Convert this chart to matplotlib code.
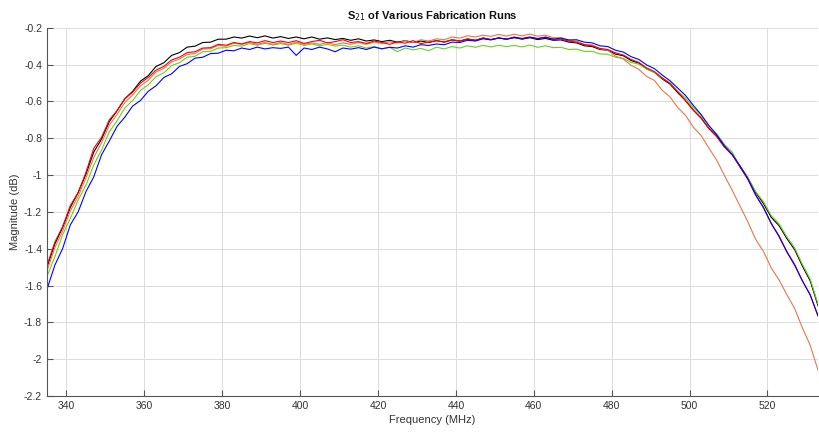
import matplotlib
matplotlib.use("Agg")
import matplotlib.pyplot as plt
import numpy as np

plt.rcParams['font.family'] = ['Liberation Sans', 'DejaVu Sans']

# Frequency sample points (MHz), 2 MHz spacing
freq = np.arange(335, 534, 2)

# |S21| in dB for each fabrication run
run_black = [
    -1.50, -1.375, -1.285, -1.175, -1.095, -0.995, -0.875, -0.805, -0.71, -0.65,
    -0.585, -0.545, -0.49, -0.46, -0.41, -0.39, -0.35, -0.335, -0.305, -0.30,
    -0.28, -0.278, -0.262, -0.262, -0.25, -0.256, -0.245, -0.254, -0.244, -0.256,
    -0.248, -0.258, -0.25, -0.26, -0.25, -0.262, -0.255, -0.264, -0.258, -0.268,
    -0.26, -0.272, -0.266, -0.275, -0.268, -0.278, -0.27, -0.28, -0.272, -0.28,
    -0.27, -0.278, -0.266, -0.272, -0.262, -0.268, -0.256, -0.264, -0.256, -0.262,
    -0.254, -0.262, -0.254, -0.264, -0.258, -0.268, -0.266, -0.278, -0.282, -0.298,
    -0.302, -0.318, -0.322, -0.343, -0.352, -0.378, -0.392, -0.423, -0.442, -0.478,
    -0.506, -0.553, -0.596, -0.648, -0.69, -0.748, -0.79, -0.848, -0.89, -0.952,
    -1.016, -1.094, -1.155, -1.23, -1.275, -1.345, -1.405, -1.495, -1.575, -1.71]
run_orange = [
    -1.52, -1.395, -1.305, -1.195, -1.115, -1.015, -0.905, -0.825, -0.73, -0.67,
    -0.605, -0.565, -0.515, -0.485, -0.44, -0.42, -0.385, -0.37, -0.345, -0.34,
    -0.315, -0.314, -0.295, -0.30, -0.284, -0.29, -0.28, -0.29, -0.28, -0.29,
    -0.28, -0.29, -0.278, -0.29, -0.282, -0.29, -0.28, -0.292, -0.282, -0.29,
    -0.28, -0.29, -0.278, -0.285, -0.276, -0.284, -0.27, -0.28, -0.265, -0.272,
    -0.26, -0.265, -0.25, -0.256, -0.243, -0.25, -0.24, -0.247, -0.236, -0.245,
    -0.235, -0.244, -0.234, -0.246, -0.24, -0.254, -0.254, -0.268, -0.272, -0.29,
    -0.293, -0.314, -0.322, -0.354, -0.37, -0.404, -0.426, -0.464, -0.486, -0.54,
    -0.576, -0.634, -0.676, -0.74, -0.786, -0.854, -0.92, -1.004, -1.084, -1.17,
    -1.255, -1.35, -1.415, -1.505, -1.57, -1.65, -1.725, -1.83, -1.925, -2.06]
run_red = [
    -1.49, -1.365, -1.28, -1.165, -1.095, -0.985, -0.855, -0.795, -0.70, -0.65,
    -0.585, -0.55, -0.50, -0.47, -0.43, -0.41, -0.375, -0.36, -0.335, -0.33,
    -0.31, -0.308, -0.29, -0.295, -0.28, -0.288, -0.275, -0.282, -0.27, -0.28,
    -0.272, -0.28, -0.27, -0.285, -0.275, -0.268, -0.282, -0.275, -0.265, -0.28,
    -0.275, -0.285, -0.272, -0.28, -0.29, -0.276, -0.284, -0.27, -0.286, -0.278,
    -0.27, -0.277, -0.265, -0.272, -0.26, -0.268, -0.255, -0.264, -0.255, -0.262,
    -0.25, -0.26, -0.252, -0.258, -0.25, -0.262, -0.262, -0.272, -0.278, -0.292,
    -0.298, -0.312, -0.318, -0.336, -0.348, -0.372, -0.388, -0.418, -0.438, -0.472,
    -0.503, -0.548, -0.596, -0.648, -0.692, -0.748, -0.792, -0.848, -0.892, -0.958,
    -1.025, -1.11, -1.175, -1.265, -1.33, -1.415, -1.485, -1.575, -1.65, -1.765]
run_green = [
    -1.55, -1.445, -1.325, -1.235, -1.135, -1.055, -0.945, -0.865, -0.765, -0.705,
    -0.635, -0.595, -0.54, -0.51, -0.465, -0.445, -0.405, -0.39, -0.36, -0.355,
    -0.33, -0.328, -0.31, -0.308, -0.296, -0.30, -0.286, -0.295, -0.284, -0.294,
    -0.286, -0.295, -0.284, -0.296, -0.288, -0.298, -0.29, -0.30, -0.294, -0.305,
    -0.298, -0.31, -0.302, -0.315, -0.306, -0.33, -0.31, -0.32, -0.312, -0.325,
    -0.305, -0.315, -0.302, -0.31, -0.298, -0.306, -0.296, -0.304, -0.295, -0.302,
    -0.296, -0.304, -0.294, -0.306, -0.298, -0.308, -0.306, -0.318, -0.316, -0.328,
    -0.328, -0.342, -0.344, -0.36, -0.366, -0.388, -0.398, -0.424, -0.442, -0.474,
    -0.498, -0.545, -0.582, -0.634, -0.676, -0.734, -0.776, -0.834, -0.876, -0.958,
    -1.015, -1.09, -1.145, -1.22, -1.265, -1.335, -1.395, -1.485, -1.565, -1.70]
run_blue = [
    -1.62, -1.49, -1.40, -1.27, -1.20, -1.09, -1.01, -0.89, -0.815, -0.735,
    -0.685, -0.625, -0.595, -0.545, -0.515, -0.47, -0.45, -0.41, -0.395, -0.365,
    -0.36, -0.34, -0.338, -0.322, -0.325, -0.31, -0.318, -0.305, -0.315, -0.308,
    -0.312, -0.305, -0.35, -0.31, -0.318, -0.305, -0.315, -0.33, -0.31, -0.316,
    -0.308, -0.318, -0.305, -0.314, -0.306, -0.31, -0.298, -0.305, -0.292, -0.296,
    -0.288, -0.292, -0.278, -0.28, -0.268, -0.272, -0.26, -0.266, -0.255, -0.262,
    -0.252, -0.258, -0.25, -0.26, -0.252, -0.262, -0.256, -0.266, -0.265, -0.278,
    -0.282, -0.298, -0.302, -0.322, -0.332, -0.357, -0.372, -0.402, -0.422, -0.457,
    -0.488, -0.528, -0.568, -0.622, -0.672, -0.732, -0.782, -0.842, -0.888, -0.952,
    -1.02, -1.108, -1.178, -1.262, -1.335, -1.418, -1.49, -1.575, -1.652, -1.765]

series = [
    (run_black, '#000000'),
    (run_green, '#66d11f'),
    (run_orange, '#e8764a'),
    (run_red, '#ff0000'),
    (run_blue, '#0000ff'),
]

x_ticks = [340, 360, 380, 400, 420, 440, 460, 480, 500, 520]
y_ticks = [-2.2, -2.0, -1.8, -1.6, -1.4, -1.2, -1.0, -0.8, -0.6, -0.4, -0.2]
y_labels = ['-2.2', '-2', '-1.8', '-1.6', '-1.4', '-1.2', '-1', '-0.8', '-0.6', '-0.4', '-0.2']

fig = plt.figure(figsize=(8.19, 4.34), dpi=100)
ax = fig.add_axes([0.0574, 0.0876, 0.9414, 0.8484])

for values, color in series:
    ax.plot(freq, values, color=color, lw=0.8)

ax.set_xlim(335, 533)
ax.set_ylim(-2.2, -0.2)
ax.set_xticks(x_ticks)
ax.set_yticks(y_ticks)
ax.set_yticklabels(y_labels)

ax.grid(True, color='#dcdcdc', lw=0.7)
ax.set_axisbelow(True)
for side in ('top', 'right'):
    ax.spines[side].set_visible(False)
for side in ('left', 'bottom'):
    ax.spines[side].set_color('#555555')
    ax.spines[side].set_linewidth(0.8)
ax.tick_params(direction='in', length=4, width=0.8, colors='#555555',
               labelcolor='#333333', labelsize=7.5)

ax.set_xlabel('Frequency (MHz)', fontsize=8, color='#333333', labelpad=3)
ax.set_ylabel('Magnitude (dB)', fontsize=8, color='#333333', labelpad=3)
ax.set_title(r'S$_{21}$ of Various Fabrication Runs', fontsize=8, fontweight='bold',
             color='#111111', pad=6)

fig.savefig('out.png', dpi=100)
